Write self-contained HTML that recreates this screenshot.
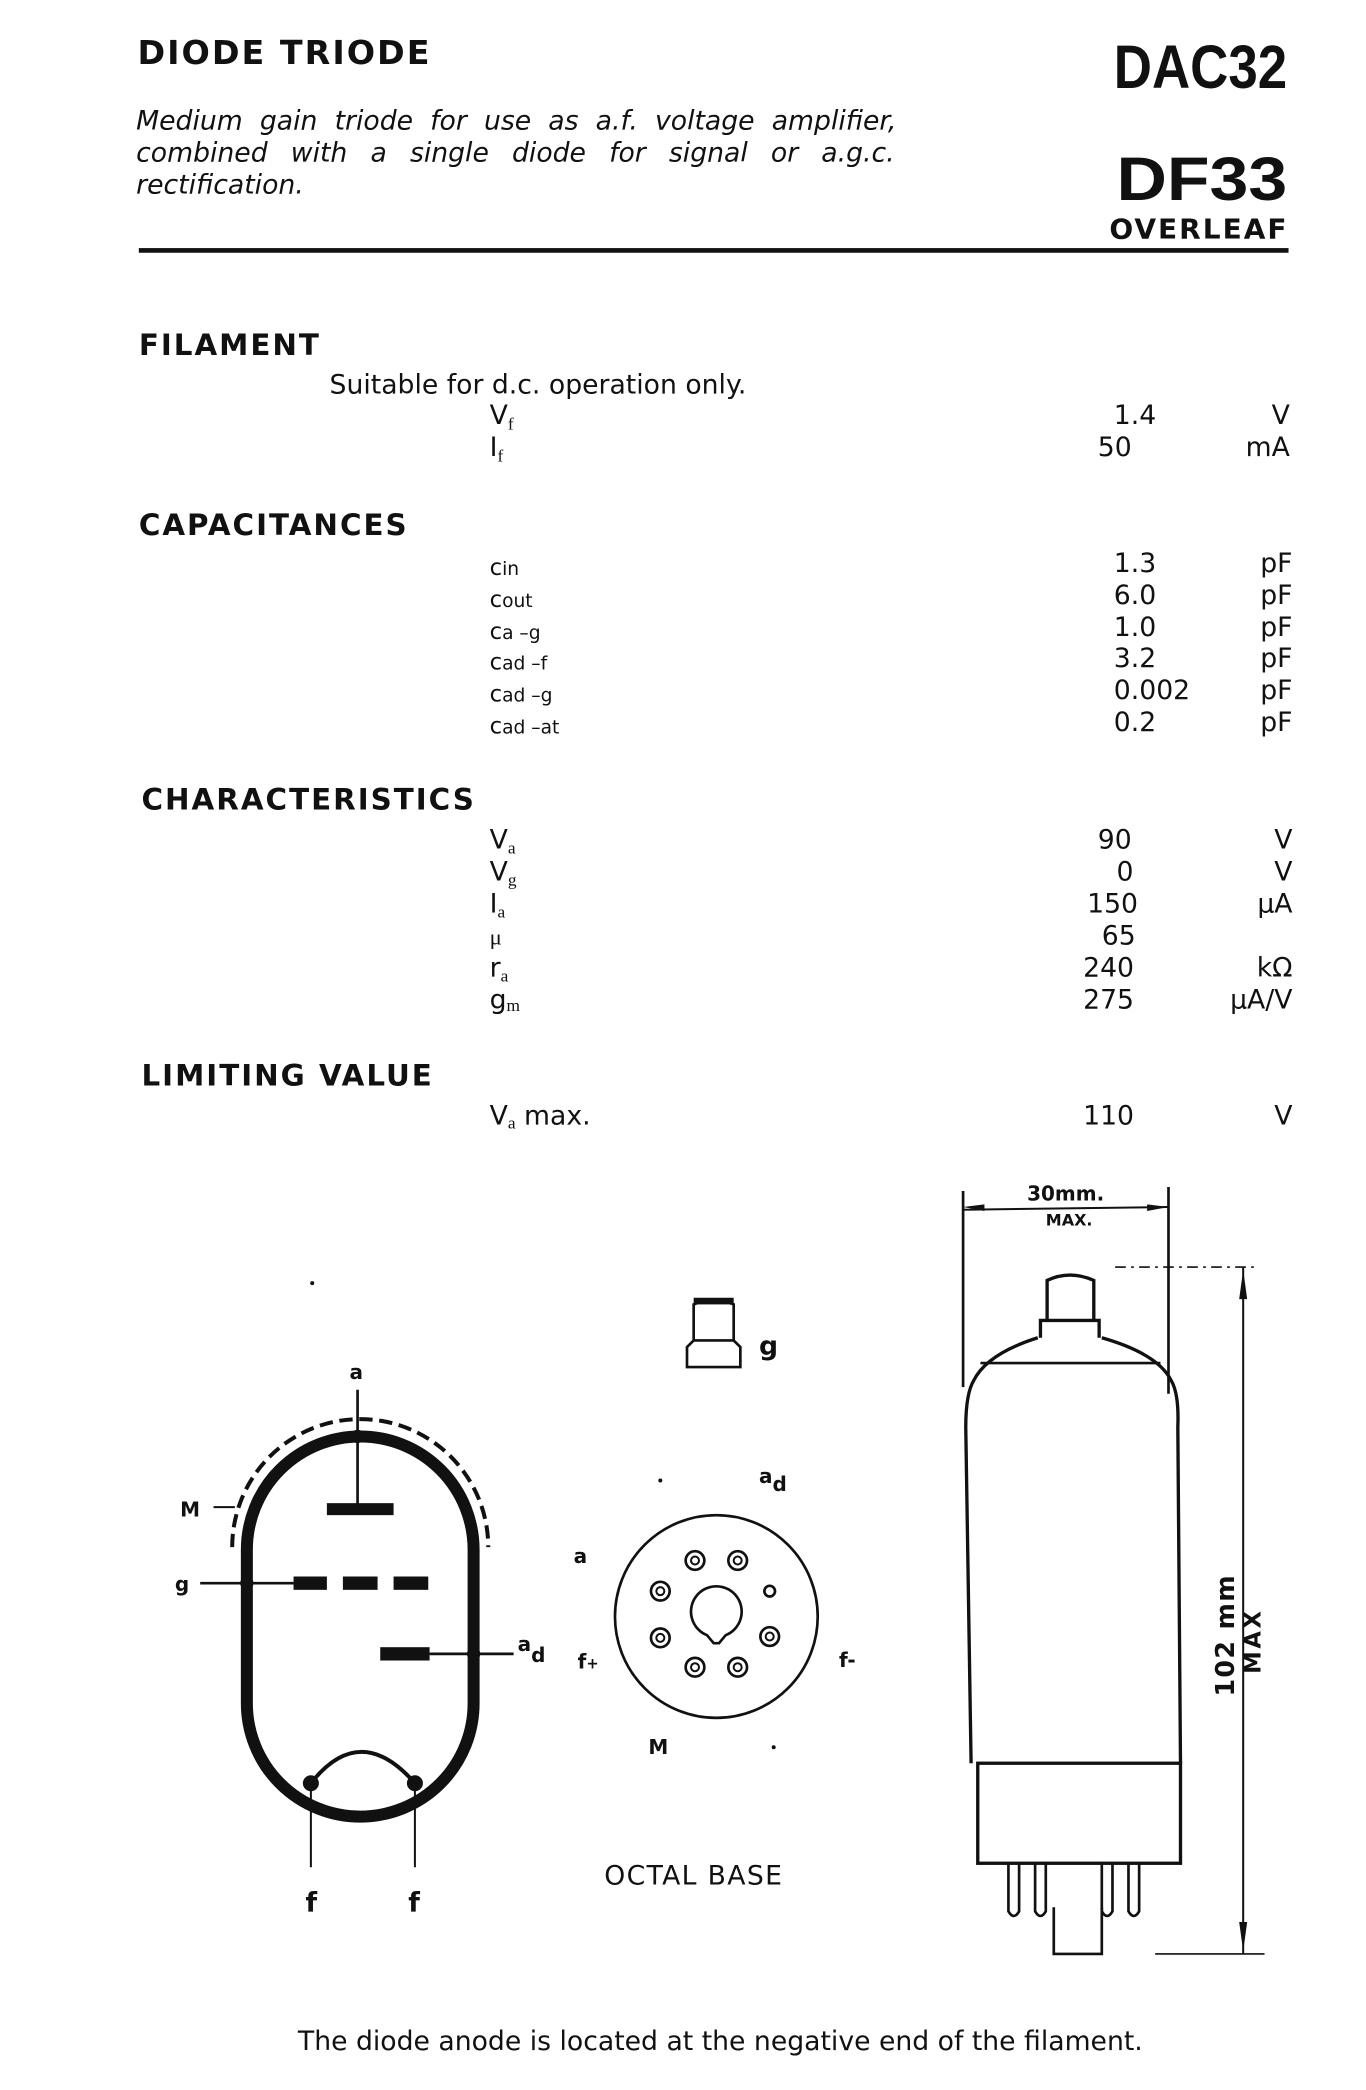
<!DOCTYPE html>
<html><head><meta charset="utf-8"><style>
html,body{margin:0;padding:0;background:#fff}
svg{display:block}
text{font-family:"DejaVu Sans","Liberation Sans",sans-serif;fill:#111}
.h{font-weight:bold;font-size:22px;letter-spacing:1.5px}
.t{font-size:20px}
.s{font-family:"Liberation Serif",serif;font-size:17px}
.b{font-weight:bold;font-size:15px}
</style></head><body>
<svg width="1366" height="2090" viewBox="0 0 1024 1567" xmlns="http://www.w3.org/2000/svg">
<text x="103" y="48" class="h" style="font-size:25px">DIODE TRIODE</text>
<text x="965" y="66" text-anchor="end" style="font-family:'Liberation Sans Narrow','Liberation Sans',sans-serif;font-weight:bold;font-size:46px" textLength="130" lengthAdjust="spacingAndGlyphs">DAC32</text>
<text x="965" y="150" text-anchor="end" style="font-family:'Liberation Sans Narrow','Liberation Sans',sans-serif;font-weight:bold;font-size:46px" textLength="128" lengthAdjust="spacingAndGlyphs">DF33</text>
<text x="966" y="179" text-anchor="end" class="h" style="font-size:21px">OVERLEAF</text>
<g style="font-style:italic;font-size:20px;font-family:'Liberation Sans',sans-serif">
<text x="102" y="97" style="word-spacing:6.5px">Medium gain triode for use as a.f. voltage amplifier,</text>
<text x="102" y="121" style="word-spacing:11px">combined with a single diode for signal or a.g.c.</text>
<text x="102" y="145">rectification.</text>
</g>
<rect x="104" y="186" width="862" height="3.5" fill="#111"/>

<text x="104" y="266" class="h">FILAMENT</text>
<text x="247" y="295" class="t">Suitable for d.c. operation only.</text>
<text x="367" y="318" class="t">V<tspan class="s" dy="4" style="font-size:13px">f</tspan></text>
<text x="367" y="342" class="t">I<tspan class="s" dy="4" style="font-size:13px">f</tspan></text>
<g class="t">
<text x="835" y="318">1.4</text><text x="967" y="318" text-anchor="end">V</text>
<text x="823" y="342">50</text><text x="967" y="342" text-anchor="end">mA</text>
</g>

<text x="104" y="401" class="h">CAPACITANCES</text>
<g class="s">
<text x="367" y="431">c<tspan style="font-size:14px">in</tspan></text>
<text x="367" y="455">c<tspan style="font-size:14px">out</tspan></text>
<text x="367" y="479">c<tspan style="font-size:14px">a –g</tspan></text>
<text x="367" y="502">c<tspan style="font-size:14px">ad –f</tspan></text>
<text x="367" y="526">c<tspan style="font-size:14px">ad –g</tspan></text>
<text x="367" y="550">c<tspan style="font-size:14px">ad –at</tspan></text>
</g>
<g class="t">
<text x="835" y="429">1.3</text><text x="835" y="453">6.0</text><text x="835" y="477">1.0</text>
<text x="835" y="500">3.2</text><text x="835" y="524">0.002</text><text x="835" y="548">0.2</text>
<text x="969" y="429" text-anchor="end">pF</text><text x="969" y="453" text-anchor="end">pF</text>
<text x="969" y="477" text-anchor="end">pF</text><text x="969" y="500" text-anchor="end">pF</text>
<text x="969" y="524" text-anchor="end">pF</text><text x="969" y="548" text-anchor="end">pF</text>
</g>

<text x="106" y="607" class="h">CHARACTERISTICS</text>
<g class="t">
<text x="367" y="636">V<tspan class="s" dy="4" style="font-size:13px">a</tspan></text>
<text x="367" y="660">V<tspan class="s" dy="4" style="font-size:13px">g</tspan></text>
<text x="367" y="684">I<tspan class="s" dy="4" style="font-size:13px">a</tspan></text>
<text x="367" y="708" class="s">μ</text>
<text x="367" y="732">r<tspan class="s" dy="4" style="font-size:13px">a</tspan></text>
<text x="367" y="756">g<tspan class="s" dy="2" style="font-size:13px">m</tspan></text>
<text x="823" y="636">90</text><text x="837" y="660">0</text><text x="815" y="684">150</text>
<text x="826" y="708">65</text><text x="812" y="732">240</text><text x="812" y="756">275</text>
<text x="969" y="636" text-anchor="end">V</text><text x="969" y="660" text-anchor="end">V</text>
<text x="969" y="684" text-anchor="end">μA</text><text x="969" y="732" text-anchor="end">kΩ</text>
<text x="969" y="756" text-anchor="end">μA/V</text>
</g>

<text x="106" y="814" class="h">LIMITING VALUE</text>
<text x="367" y="843" class="t">V<tspan class="s" dy="3" style="font-size:13px">a</tspan><tspan dy="-3"> max.</tspan></text>
<text x="812" y="843" class="t">110</text><text x="969" y="843" class="t" text-anchor="end">V</text>

<!-- symbol -->
<g fill="none" stroke="#111">
<path d="M185,1162 A85,85 0 0 1 355,1162 L355,1277 A85,85 0 0 1 185,1277 Z" stroke-width="9"/>
<path d="M174,1160 A96,96 0 0 1 366,1160" stroke-width="3" stroke-dasharray="10,5"/>
<line x1="268" y1="1042" x2="268" y2="1130" stroke-width="2"/>
<line x1="160" y1="1130" x2="176" y2="1130" stroke-width="1.5"/>
<line x1="150" y1="1187" x2="220" y2="1187" stroke-width="2"/>
<line x1="322" y1="1240" x2="385" y2="1240" stroke-width="2"/>
<path d="M233,1337 Q270,1290 311,1337" stroke-width="3"/>
<line x1="233" y1="1337" x2="233" y2="1400" stroke-width="1.5"/>
<line x1="311" y1="1337" x2="311" y2="1400" stroke-width="1.5"/>
</g>
<g fill="#111">
<rect x="245" y="1127" width="50" height="9"/>
<rect x="220" y="1182" width="25" height="10"/><rect x="257" y="1182" width="26" height="10"/><rect x="295" y="1182" width="26" height="10"/>
<rect x="285" y="1235" width="37" height="10"/>
<circle cx="268" cy="1077" r="5"/><circle cx="185" cy="1187" r="5"/><circle cx="355" cy="1240" r="5"/>
<circle cx="233" cy="1337" r="6"/><circle cx="311" cy="1337" r="6"/>
<circle cx="234" cy="962" r="1.5"/>
</g>
<g class="b">
<text x="262" y="1034">a</text><text x="135" y="1137">M</text><text x="131" y="1193">g</text>
<text x="388" y="1238">a<tspan dy="8">d</tspan></text>
<text x="229" y="1433" style="font-size:20px">f</text><text x="306" y="1433" style="font-size:20px">f</text>
</g>

<!-- octal base -->
<g fill="none" stroke="#111" stroke-width="2">
<circle cx="537" cy="1212" r="76"/>
<path d="M530,1226 A19,19 0 1 1 544,1226 L539,1232 L535,1232 Z"/>
<path d="M515,1025 L515,1010 L520,1005 L520,978 Q535,972 550,978 L550,1005 L555,1010 L555,1025 Z"/>
<line x1="520" y1="1005" x2="550" y2="1005"/>
</g>
<rect x="520" y="973" width="30" height="5" fill="#111"/>
<g fill="none" stroke="#111">
<circle cx="521" cy="1170" r="7" stroke-width="2"/><circle cx="521" cy="1170" r="3" stroke-width="1.5"/>
<circle cx="553" cy="1170" r="7" stroke-width="2"/><circle cx="553" cy="1170" r="3" stroke-width="1.5"/>
<circle cx="495" cy="1193" r="7" stroke-width="2"/><circle cx="495" cy="1193" r="3" stroke-width="1.5"/>
<circle cx="577" cy="1193" r="4" stroke-width="2"/>
<circle cx="495" cy="1228" r="7" stroke-width="2"/><circle cx="495" cy="1228" r="3" stroke-width="1.5"/>
<circle cx="577" cy="1227" r="7" stroke-width="2"/><circle cx="577" cy="1227" r="3" stroke-width="1.5"/>
<circle cx="521" cy="1250" r="7" stroke-width="2"/><circle cx="521" cy="1250" r="3" stroke-width="1.5"/>
<circle cx="553" cy="1250" r="7" stroke-width="2"/><circle cx="553" cy="1250" r="3" stroke-width="1.5"/>
</g>
<g class="b">
<text x="569" y="1016" style="font-size:20px">g</text>
<text x="430" y="1172">a</text>
<text x="569" y="1112">a<tspan dy="6">d</tspan></text>
<text x="433" y="1251">f<tspan style="font-size:11px">+</tspan></text>
<text x="629" y="1250">f-</text>
<text x="486" y="1315">M</text>
</g>
<circle cx="495" cy="1110" r="1.5" fill="#111"/><circle cx="580" cy="1310" r="1.5" fill="#111"/>
<text x="453" y="1413" class="t" style="letter-spacing:1px">OCTAL  BASE</text>

<!-- tube outline -->
<g fill="none" stroke="#111" stroke-width="2.5">
<path d="M785,990 L785,960 Q802,952 820,960 L820,990"/>
<path d="M780,1003 L780,990 L824,990 L824,1003"/>
<path d="M778,1003 Q740,1015 730,1035 Q724,1045 724,1070 L728,1322"/>
<path d="M826,1003 Q868,1015 878,1035 Q884,1045 883,1070 L885,1322"/>
<line x1="735" y1="1022" x2="870" y2="1022" stroke-width="2"/>
<rect x="733" y="1322" width="152" height="75"/>
<path d="M756,1397 L756,1433 Q760,1440 764,1433 L764,1397" stroke-width="2"/>
<path d="M776,1397 L776,1433 Q780,1440 784,1433 L784,1397" stroke-width="2"/>
<path d="M826,1397 L826,1433 Q830,1440 834,1433 L834,1397" stroke-width="2"/>
<path d="M846,1397 L846,1433 Q850,1440 854,1433 L854,1397" stroke-width="2"/>
<path d="M790,1430 L790,1465 L826,1465 L826,1430" stroke-width="2"/>
</g>
<g stroke="#111" fill="none">
<line x1="722" y1="893" x2="722" y2="1040" stroke-width="2"/>
<line x1="876" y1="890" x2="876" y2="1045" stroke-width="2"/>
<line x1="722" y1="907" x2="876" y2="905" stroke-width="1.5"/>
<line x1="836" y1="950" x2="942" y2="950" stroke-width="1.2" stroke-dasharray="8,4,2,4"/>
<line x1="866" y1="1465" x2="948" y2="1465" stroke-width="1.2"/>
<line x1="932" y1="950" x2="932" y2="1465" stroke-width="1.5"/>
</g>
<g fill="#111">
<path d="M722,905 l16,-2 l0,5 Z"/><path d="M876,905 l-16,-2 l0,5 Z"/>
<path d="M932,952 l-3,22 l6,0 Z"/><path d="M932,1463 l-3,-22 l6,0 Z"/>
</g>
<text x="770" y="900" class="b">30mm.</text>
<text x="784" y="919" class="b" style="font-size:12px">MAX.</text>
<text transform="translate(925,1272) rotate(-90)" class="b" style="font-size:19px;letter-spacing:1px">102 mm</text>
<text transform="translate(945,1255) rotate(-90)" class="b" style="font-size:17px;letter-spacing:2px">MAX</text>

<text x="540" y="1537" class="t" text-anchor="middle">The diode anode is located at the negative end of the filament.</text>
</svg>
</body></html>
